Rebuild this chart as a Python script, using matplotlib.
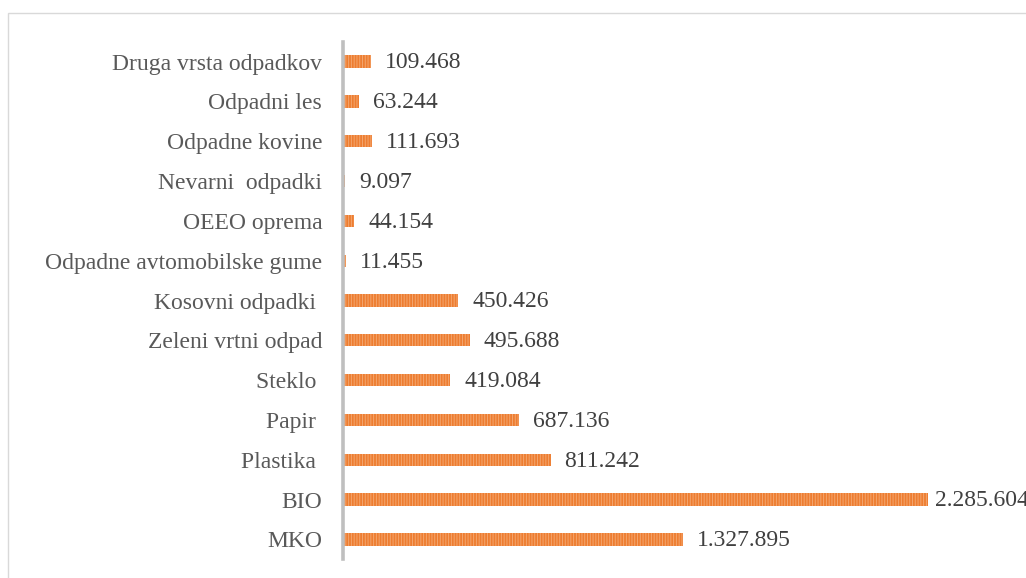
import matplotlib
matplotlib.use("Agg")
import matplotlib.pyplot as plt
from matplotlib.patches import Rectangle

categories = ["MKO", "BIO", "Plastika ", "Papir ", "Steklo ", "Zeleni vrtni odpad",
              "Kosovni odpadki ", "Odpadne avtomobilske gume", "OEEO oprema",
              "Nevarni  odpadki", "Odpadne kovine", "Odpadni les", "Druga vrsta odpadkov"]
values = [1327895, 2285604, 811242, 687136, 419084, 495688, 450426, 11455, 44154,
          9097, 111693, 63244, 109468]
value_labels = ["1.327.895", "2.285.604", "811.242", "687.136", "419.084", "495.688",
                "450.426", "11.455", "44.154", "9.097", "111.693", "63.244", "109.468"]

W, H = 1026, 578
fig = plt.figure(figsize=(W / 100, H / 100), dpi=100)
plt.rcParams['hatch.linewidth'] = 0.7
font = ['Liberation Serif', 'DejaVu Serif']

# outer border (cut off at right and bottom)
fig.patches.append(Rectangle((7.5 / W, -0.1), 1.2, 1 - 12.7 / H + 0.1,
                             transform=fig.transFigure, fill=False,
                             edgecolor='#d9d9d9', linewidth=1.0))

left = 343 / W
bottom = (H - 559.3) / H
top = (H - 41.7) / H
ax = fig.add_axes([left, bottom, 1 - left, top - bottom])
ax.set_facecolor('none')

y = list(range(len(categories)))
ax.barh(y, values, height=0.31, color='#ED7D31', edgecolor='#F4A66E',
        linewidth=0, hatch='||||||', zorder=1)

vmax = max(values)
for yi, v, lab in zip(y, values, value_labels):
    # the longest label sits closer to its bar
    off = 5 if v == vmax else 10
    ax.annotate(lab, (v, yi), xytext=(off, -1), textcoords='offset points',
                ha='left', va='center', fontsize=17, color='#404040',
                family=font, annotation_clip=False)

ax.set_xlim(0, 2668000)
ax.set_ylim(-0.5, len(categories) - 0.5)
ax.set_yticks(y)
ax.set_yticklabels(categories, fontsize=17, color='#595959', family=font)
ax.tick_params(axis='y', length=0, pad=15)
ax.set_xticks([])
for s in ['top', 'right', 'bottom']:
    ax.spines[s].set_visible(False)
ax.spines['left'].set_color('#bfbfbf')
ax.spines['left'].set_linewidth(2.6)

fig.savefig("out.png", dpi=100)
